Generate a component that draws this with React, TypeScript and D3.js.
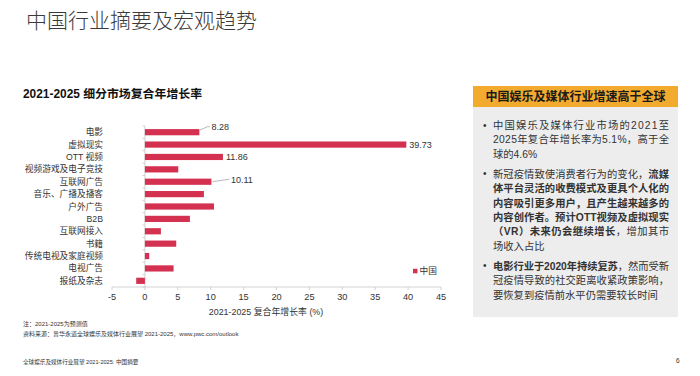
import React from 'react';
import * as d3 from 'd3';

const categories = ['电影', '虚拟现实', 'OTT 视频', '视频游戏及电子竞技', '互联网广告', '音乐、广播及播客', '户外广告', 'B2B', '互联网接入', '书籍', '传统电视及家庭视频', '电视广告', '报纸及杂志'];
const values = [8.28, 39.73, 11.86, 5.07, 10.11, 8.97, 10.5, 6.84, 2.43, 4.76, 0.66, 4.36, -1.32];
const xTicks = [-5, 0, 5, 10, 15, 20, 25, 30, 35, 40, 45];
// which bars carry a data label, and the style of its leader
const labelled = [
  { idx: 0, leader: 'up' },
  { idx: 1, leader: 'none' },
  { idx: 2, leader: 'none' },
  { idx: 4, leader: 'long' },
];
const seriesName = '中国';

const pageTitle = '中国行业摘要及宏观趋势';
const chartTitle = '2021-2025 细分市场复合年增长率';
const axisTitle = '2021-2025 复合年增长率 (%)';
const panelTitle = '中国娱乐及媒体行业增速高于全球';
type Seg = { t: string; b?: boolean };
const bullet1: Seg[][] = [
  [{ t: '中国娱乐及媒体行业市场的2021至' }],
  [{ t: '2025年复合年增长率为5.1%，高于全' }],
  [{ t: '球的4.6%' }],
];
const bullet2: Seg[][] = [
  [{ t: '新冠疫情致使消费者行为的变化，' }, { t: '流媒', b: true }],
  [{ t: '体平台灵活的收费模式及更具个人化的', b: true }],
  [{ t: '内容吸引更多用户，且产生越来越多的', b: true }],
  [{ t: '内容创作者。预计OTT视频及虚拟现实', b: true }],
  [{ t: '（VR）未来仍会继续增长', b: true }, { t: '，增加其市' }],
  [{ t: '场收入占比' }],
];
const bullet3: Seg[][] = [
  [{ t: '电影行业于2020年持续复苏', b: true }, { t: '，然而受新' }],
  [{ t: '冠疫情导致的社交距离收紧政策影响，' }],
  [{ t: '要恢复到疫情前水平仍需要较长时间' }],
];
const bullets = [bullet1, bullet2, bullet3];
const footNote1 = '注：2021-2025为预测值';
const footNote2 = '资料来源：普华永道全球娱乐及媒体行业展望 2021-2025，www.pwc.com/outlook';
const footer = '全球娱乐及媒体行业展望 2021-2025: 中国摘要';
const pageNo = '6';

const FONT = '"Liberation Sans", Arial, "Noto Sans CJK SC", sans-serif';
const BAR = '#D4304F';
const TXT = '#333333';

export default function App() {
  const x = d3.scaleLinear().domain([-5, 45]).range([112, 441]);
  const y = d3.scaleBand<string>().domain(categories).range([126, 287]).paddingInner(0.5).paddingOuter(0.25);
  const step = y.step();
  const axisY = 287;

  // bullet layout
  const lineH = 14.4;
  const paraGap = 5.6;
  let cy = 125;
  const textLines: { y: number; segs: Seg[]; justify: boolean; first: boolean }[] = [];
  bullets.forEach(para => {
    para.forEach((segs, li) => {
      textLines.push({ y: cy, segs, justify: li < para.length - 1, first: li === 0 });
      cy += lineH;
    });
    cy += paraGap;
  });

  return (
    <div style={{ position: 'absolute', left: 0, top: 0 }}>
      <svg width={700} height={376} style={{ display: 'block', background: '#fff' }} fontFamily={FONT}>
        <text x={26} y={19} fontSize={21} fill="#3a3a3a" dominantBaseline="central" fontFamily='"Noto Sans CJK SC", sans-serif' fontWeight={300}>{pageTitle}</text>
        <text x={23} y={94} fontSize={11.9} fontWeight="bold" fill="#111" dominantBaseline="central">{chartTitle}</text>

        {/* y axis line with ticks at band boundaries */}
        <line x1={x(0)} x2={x(0)} y1={126} y2={axisY} stroke="#c8c8c8" strokeWidth={0.8} />
        {d3.range(categories.length + 1).map(i => (
          <line key={'yt' + i} x1={x(0) - 2.5} x2={x(0)} y1={126 + i * step} y2={126 + i * step} stroke="#c8c8c8" strokeWidth={0.8} />
        ))}

        {/* bars */}
        {categories.map((c, i) => {
          const v = values[i];
          return (
            <rect key={c} x={x(Math.min(0, v))} y={y(c)} width={Math.abs(x(v) - x(0))} height={y.bandwidth()} fill={BAR} />
          );
        })}

        {/* category labels */}
        {categories.map(c => (
          <text key={'l' + c} x={103} y={(y(c) as number) + y.bandwidth() / 2} fontSize={8.7} fill={TXT} textAnchor="end" dominantBaseline="central">{c}</text>
        ))}

        {/* data labels */}
        {labelled.map(({ idx, leader }) => {
          const v = values[idx];
          const yc = (y(categories[idx]) as number) + y.bandwidth() / 2;
          const xe = x(v);
          if (leader === 'up') {
            return (
              <g key={'dl' + idx}>
                <polyline points={`${xe + 0.5},${yc - 2} ${xe + 8},${yc - 5.5} ${xe + 10.5},${yc - 5.5}`} fill="none" stroke="#999" strokeWidth={0.7} />
                <text x={xe + 12} y={yc - 5} fontSize={9} fill={TXT} dominantBaseline="central">{v.toFixed(2)}</text>
              </g>
            );
          }
          if (leader === 'long') {
            return (
              <g key={'dl' + idx}>
                <line x1={xe + 1} y1={yc} x2={xe + 18} y2={yc - 2.5} stroke="#999" strokeWidth={0.7} />
                <text x={xe + 19.5} y={yc - 1.5} fontSize={9} fill={TXT} dominantBaseline="central">{v.toFixed(2)}</text>
              </g>
            );
          }
          return (
            <text key={'dl' + idx} x={xe + 3} y={yc} fontSize={9} fill={TXT} dominantBaseline="central">{v.toFixed(2)}</text>
          );
        })}

        {/* x axis */}
        <line x1={x(-5)} x2={x(45)} y1={axisY} y2={axisY} stroke="#c8c8c8" strokeWidth={0.8} />
        {xTicks.map(t => (
          <g key={'xt' + t}>
            <line x1={x(t)} x2={x(t)} y1={axisY} y2={axisY + 3} stroke="#c8c8c8" strokeWidth={0.8} />
            <text x={x(t)} y={axisY + 10} fontSize={9.2} fill={TXT} textAnchor="middle" dominantBaseline="central">{t}</text>
          </g>
        ))}
        <text x={266} y={312} fontSize={8.9} fill={TXT} textAnchor="middle" dominantBaseline="central">{axisTitle}</text>

        {/* legend */}
        <rect x={413} y={268.8} width={4.5} height={4.5} fill={BAR} />
        <text x={419.5} y={271} fontSize={8.7} fill={TXT} dominantBaseline="central">{seriesName}</text>

        {/* right panel */}
        <rect x={473} y={86} width={205} height={21} fill="#F2AB2E" />
        <rect x={473} y={107} width={205} height={210} fill="#EDEDED" />
        <text x={575.5} y={96.5} fontSize={12} fontWeight="bold" fill="#1a1a1a" textAnchor="middle" dominantBaseline="central">{panelTitle}</text>
        {textLines.map((ln, i) => (
          <g key={'tl' + i}>
            {ln.first && <text x={483} y={ln.y} fontSize={10} fill={TXT} dominantBaseline="central">•</text>}
            <text x={493} y={ln.y} fontSize={10.3} fill={TXT} dominantBaseline="central"
              {...(ln.justify ? { textLength: 176, lengthAdjust: 'spacing' } : {})}>
              {ln.segs.map((s, j) => (
                <tspan key={j} fontWeight={s.b ? 'bold' : 'normal'}>{s.t}</tspan>
              ))}
            </text>
          </g>
        ))}

        {/* footnotes */}
        <text x={23} y={324} fontSize={6} fill={TXT} dominantBaseline="central">{footNote1}</text>
        <text x={23} y={334} fontSize={6} fill={TXT} dominantBaseline="central">{footNote2}</text>
        <text x={23} y={362} fontSize={5.6} fill={TXT} dominantBaseline="central">{footer}</text>
        <text x={676} y={360} fontSize={6.5} fill={TXT} dominantBaseline="central">{pageNo}</text>
      </svg>
    </div>
  );
}
